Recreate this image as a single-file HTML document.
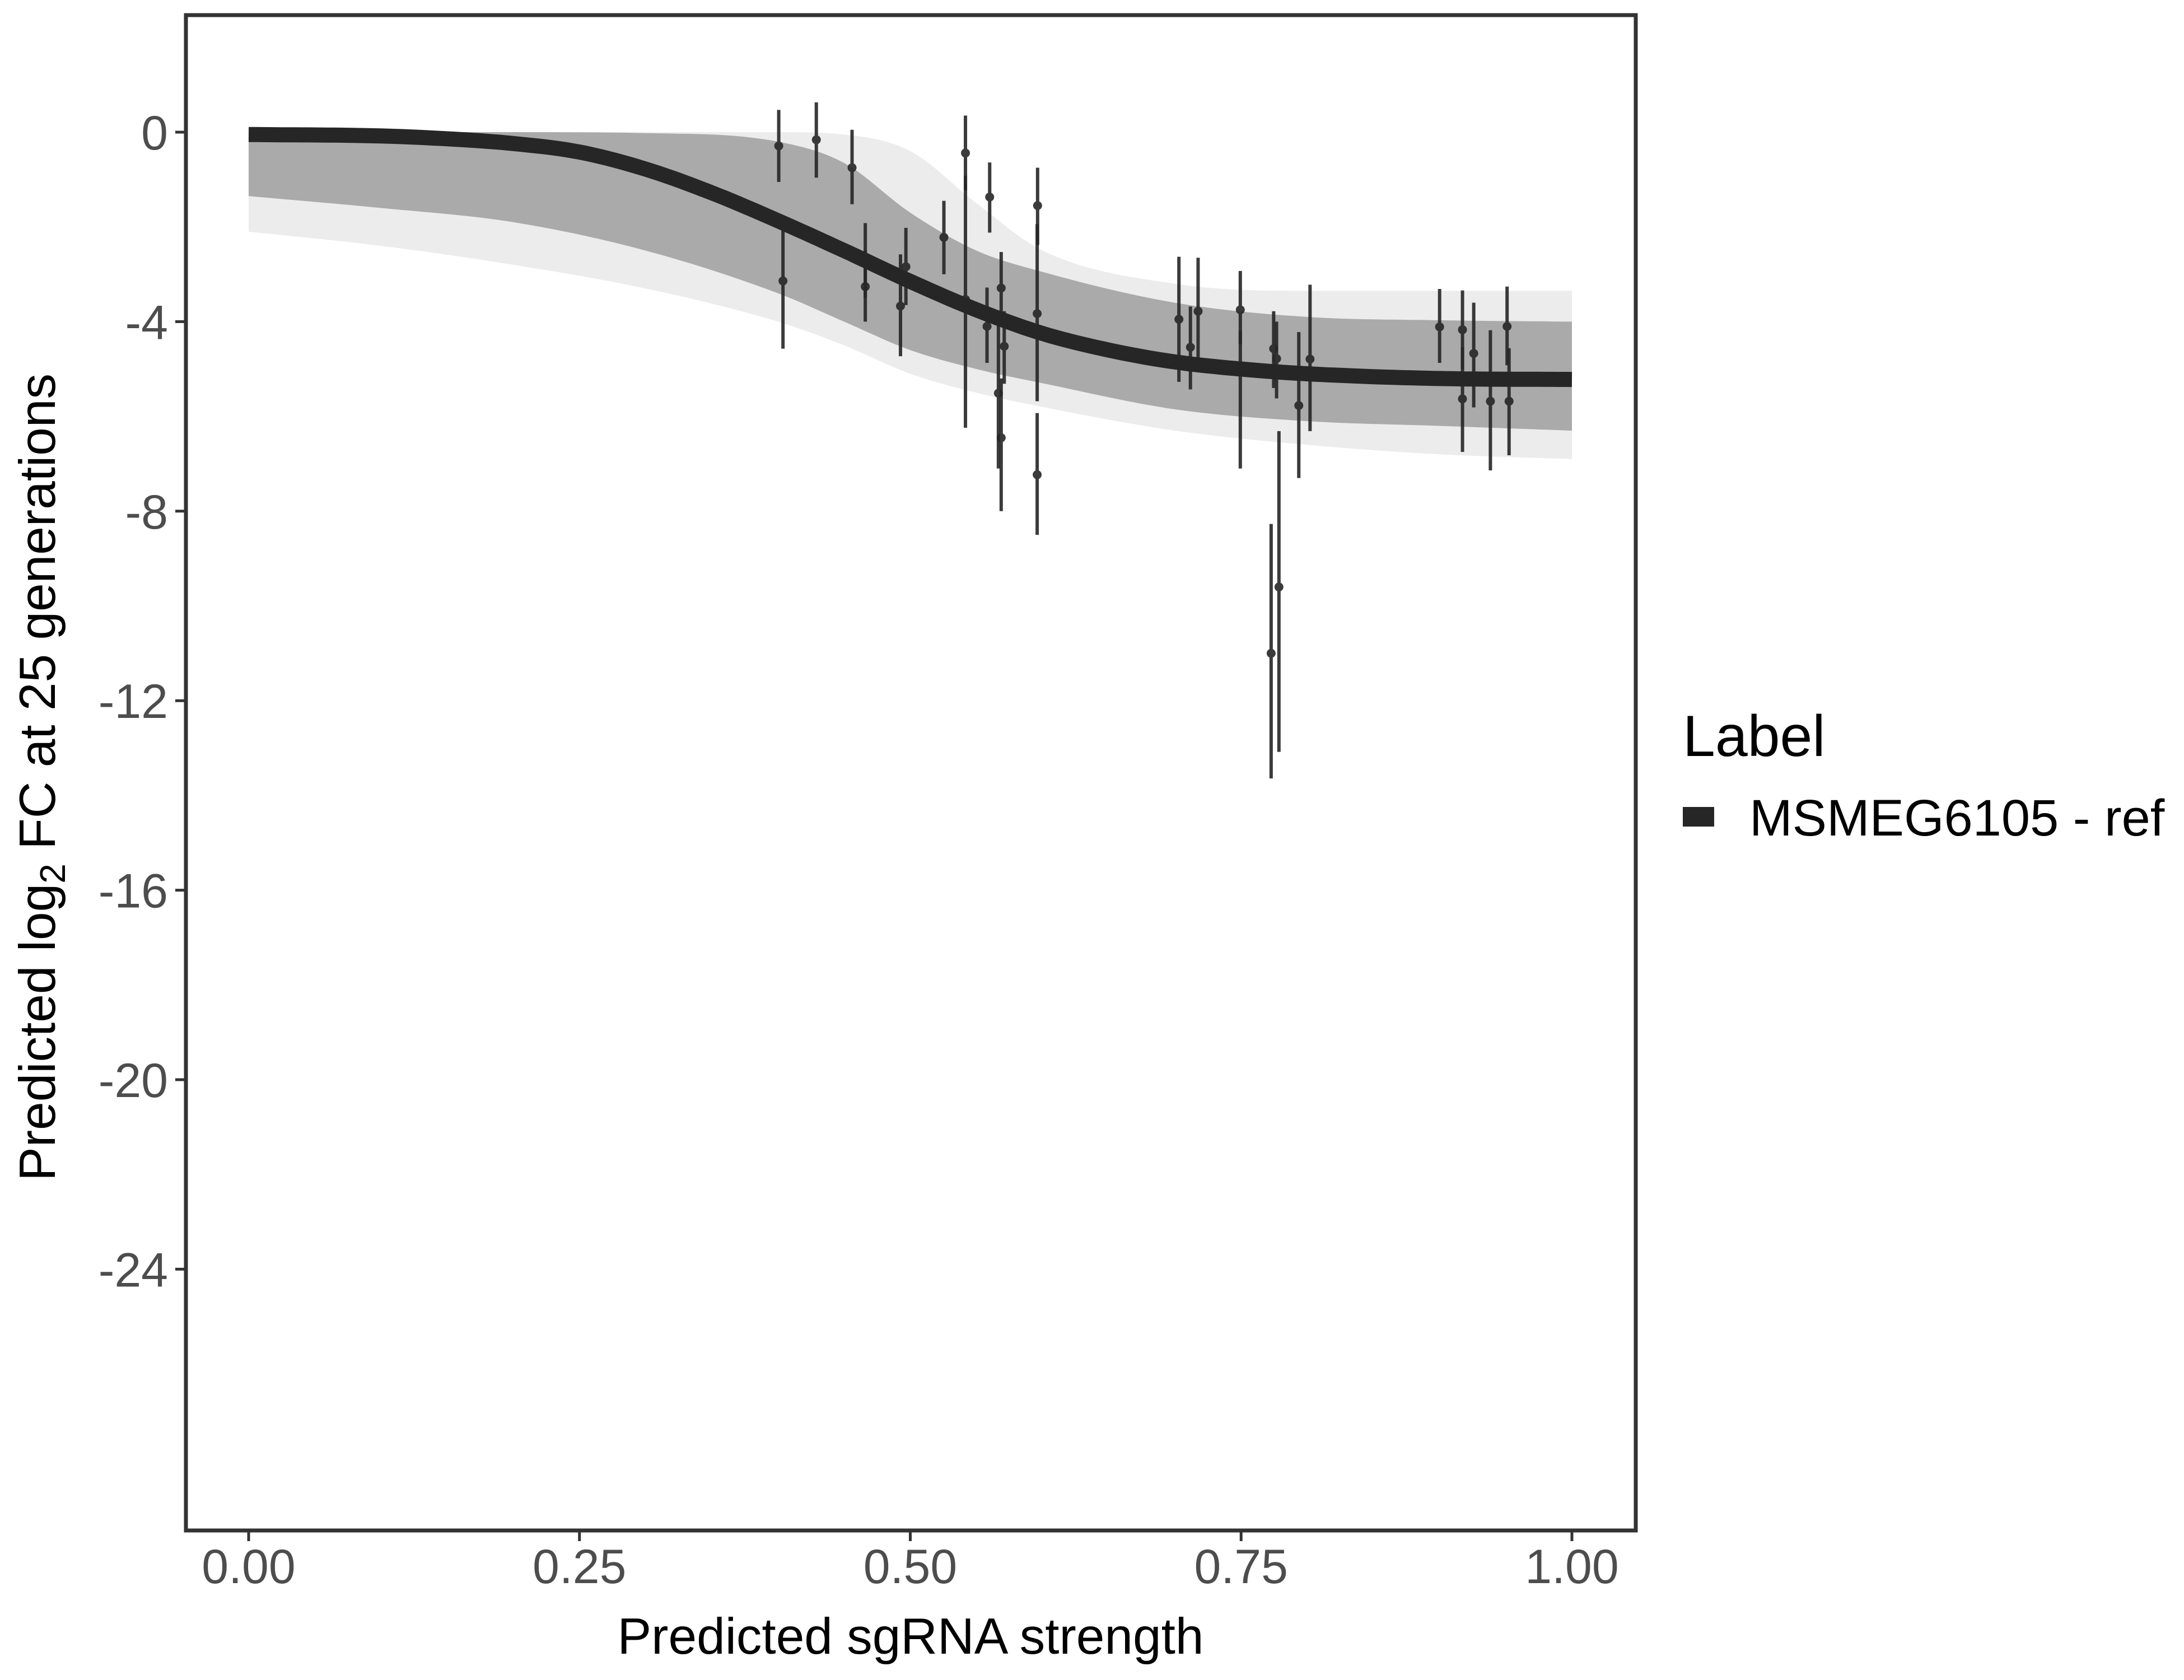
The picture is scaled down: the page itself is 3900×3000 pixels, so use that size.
<!DOCTYPE html>
<html><head><meta charset="utf-8"><style>
html,body{margin:0;padding:0;background:#fff;}
svg{display:block;font-family:"Liberation Sans",sans-serif;}
</style></head><body>
<svg id="chart" width="3900" height="3000" viewBox="0 0 3900 3000">
<rect width="3900" height="3000" fill="#fff"/>
<g id="band"></g>
<g id="mainline"></g>
<g id="points"></g>
<g id="axes"></g>
<rect x="332" y="27" width="2589" height="2706" fill="none" stroke="#333" stroke-width="7"/>
<text x="1626" y="2953" font-size="91" text-anchor="middle" fill="#000">Predicted sgRNA strength</text>
<text transform="translate(98,1388) rotate(-90)" font-size="91" text-anchor="middle" fill="#000">Predicted  log<tspan font-size="64" dy="18">2</tspan><tspan dy="-18"> FC at 25 generations</tspan></text>
<text x="3005" y="1350" font-size="104" fill="#000">Label</text>
<rect x="3005" y="1441" width="56" height="35" fill="#262626"/>
<text x="3124" y="1492" font-size="92" fill="#000">MSMEG6105 - ref</text>
</svg>
<script>
const xTicks=[0,0.25,0.5,0.75,1];
const xTickLabels=["0.00","0.25","0.50","0.75","1.00"];
const yTicks=[0,-4,-8,-12,-16,-20,-24];
const yTickLabels=["0","-4","-8","-12","-16","-20","-24"];
const curveX=[0,0.1,0.15,0.2,0.25,0.3,0.35,0.4,0.45,0.5,0.55,0.6,0.65,0.7,0.75,0.8,0.9,1.0];
const curveY=[-0.05,-0.08,-0.14,-0.24,-0.42,-0.78,-1.28,-1.87,-2.5,-3.15,-3.75,-4.25,-4.6,-4.85,-5.0,-5.1,-5.2,-5.22];
const bandX=[0,0.1,0.2,0.3,0.4,0.45,0.5,0.55,0.6,0.7,0.8,0.9,1.0];
const innerUpper=[0,0,0,-0.02,-0.2,-0.65,-1.7,-2.5,-2.95,-3.6,-3.9,-3.97,-4.0];
const innerLower=[-1.35,-1.6,-1.9,-2.5,-3.4,-4.0,-4.6,-5.0,-5.3,-5.85,-6.1,-6.2,-6.3];
const outerUpper=[0,0,0,0,0,-0.05,-0.4,-1.5,-2.5,-3.2,-3.35,-3.35,-3.35];
const outerLower=[-2.1,-2.4,-2.8,-3.3,-4.0,-4.5,-5.1,-5.5,-5.8,-6.3,-6.6,-6.8,-6.9];
const ptX=[0.4006,0.4038,0.429,0.456,0.466,0.466,0.4926,0.4967,0.5254,0.5417,0.5417,0.560,0.558,0.5687,0.5666,0.5687,0.571,0.5962,0.5959,0.5959,0.703,0.7117,0.7175,0.7494,0.7494,0.7746,0.7727,0.7768,0.7786,0.7936,0.8021,0.900,0.9173,0.9173,0.9258,0.9384,0.951,0.9525];
const ptY=[-0.29,-3.14,-0.16,-0.75,-2.70,-3.26,-3.67,-2.84,-2.22,-0.44,-3.53,-1.37,-4.1,-3.29,-5.51,-6.45,-4.52,-1.55,-3.83,-7.23,-3.95,-4.54,-3.78,-3.75,-4.95,-4.57,-11.0,-4.78,-9.6,-5.77,-4.79,-4.11,-4.17,-5.63,-4.67,-5.68,-4.10,-5.68];
const ptLo=[-1.05,-4.57,-0.96,-1.52,-3.5,-4.0,-4.73,-3.65,-3.0,-1.23,-6.24,-2.12,-4.87,-4.1,-7.1,-8.0,-5.31,-2.38,-5.68,-8.5,-5.27,-5.43,-4.86,-4.48,-7.1,-5.4,-13.64,-5.62,-13.08,-7.3,-6.31,-4.87,-5.0,-6.75,-5.81,-7.14,-4.92,-6.82];
const ptHi=[0.47,-2.08,0.63,0.05,-1.92,-2.5,-2.58,-2.02,-1.45,0.35,-0.92,-0.64,-3.28,-2.53,-3.98,-5.2,-3.78,-0.75,-1.94,-5.93,-2.63,-3.68,-2.65,-2.93,-4.2,-3.78,-8.27,-4.0,-6.31,-4.22,-3.22,-3.31,-3.34,-4.54,-3.6,-4.18,-3.26,-4.56];

const NS="http://www.w3.org/2000/svg";
const X0=444,X1=2807,Y0=236,YU=84.6;
function sx(v){return X0+(X1-X0)*v;}
function sy(v){return Y0-v*YU;}
function mk(tag,attrs,parent){const e=document.createElementNS(NS,tag);for(const k in attrs)e.setAttribute(k,attrs[k]);parent.appendChild(e);return e;}
function interp(xs,ys,n){
  const m=xs.length,d=[],t=[];
  for(let i=0;i<m-1;i++)d.push((ys[i+1]-ys[i])/(xs[i+1]-xs[i]));
  t.push(d[0]);
  for(let i=1;i<m-1;i++){t.push(d[i-1]*d[i]<=0?0:(d[i-1]+d[i])/2);}
  t.push(d[m-2]);
  for(let i=0;i<m-1;i++){if(d[i]===0){t[i]=0;t[i+1]=0;}else{const a=t[i]/d[i],b=t[i+1]/d[i],s=a*a+b*b;if(s>9){const k=3/Math.sqrt(s);t[i]=k*a*d[i];t[i+1]=k*b*d[i];}}}
  const out=[];
  for(let k=0;k<=n;k++){const x=k/n;let j=0;while(j<m-2&&x>xs[j+1])j++;const h=xs[j+1]-xs[j],u=(x-xs[j])/h;
    const h00=2*u*u*u-3*u*u+1,h10=u*u*u-2*u*u+u,h01=-2*u*u*u+3*u*u,h11=u*u*u-u*u;
    out.push([x,h00*ys[j]+h10*h*t[j]+h01*ys[j+1]+h11*h*t[j+1]]);}
  return out;
}
function linePath(pts){let d="M"+sx(pts[0][0])+","+sy(pts[0][1]);for(let i=1;i<pts.length;i++){d+=" L"+sx(pts[i][0]).toFixed(1)+","+sy(pts[i][1]).toFixed(1);}return d;}
function bandPath(up,lo){const a=interp(bandX,up,200),b=interp(bandX,lo,200).reverse();return linePath(a.concat(b))+" Z";}

const band=document.getElementById('band');
const ob=mk('path',{d:bandPath(outerUpper,outerLower),fill:'#ececec'},band);


const ib=mk('path',{d:bandPath(innerUpper,innerLower),fill:'#aaaaaa'},band);



const ml=mk('path',{d:linePath(interp(curveX,curveY,200)),fill:'none',stroke:'#262626','stroke-width':27,'stroke-linejoin':'round'},document.getElementById('mainline'));



const pg=document.getElementById('points');
for(let i=0;i<ptX.length;i++){
  const g=mk('g',{opacity:0.9},pg);
  
  
  const l=mk('line',{x1:sx(ptX[i]),x2:sx(ptX[i]),y1:sy(ptHi[i]),y2:sy(ptLo[i]),stroke:'#262626','stroke-width':6},g);
  
  
  const c=mk('circle',{cx:sx(ptX[i]),cy:sy(ptY[i]),r:8,fill:'#262626'},g);
  
  
}

const ax=document.getElementById('axes');
for(let i=0;i<xTicks.length;i++){
  const t=mk('line',{x1:sx(xTicks[i]),x2:sx(xTicks[i]),y1:2733,y2:2752,stroke:'#333','stroke-width':5},ax);
  
  
  const tx=mk('text',{x:sx(xTicks[i]),y:2827,'font-size':86,'text-anchor':'middle',fill:'#4d4d4d'},ax);
  tx.textContent=xTickLabels[i];
  
  
}
for(let i=0;i<yTicks.length;i++){
  const t=mk('line',{x1:313,x2:332,y1:sy(yTicks[i]),y2:sy(yTicks[i]),stroke:'#333','stroke-width':5},ax);
  
  
  const tx=mk('text',{x:300,y:sy(yTicks[i])+31,'font-size':86,'text-anchor':'end',fill:'#4d4d4d'},ax);
  tx.textContent=yTickLabels[i];
  
  
}
</script>
</body></html>
